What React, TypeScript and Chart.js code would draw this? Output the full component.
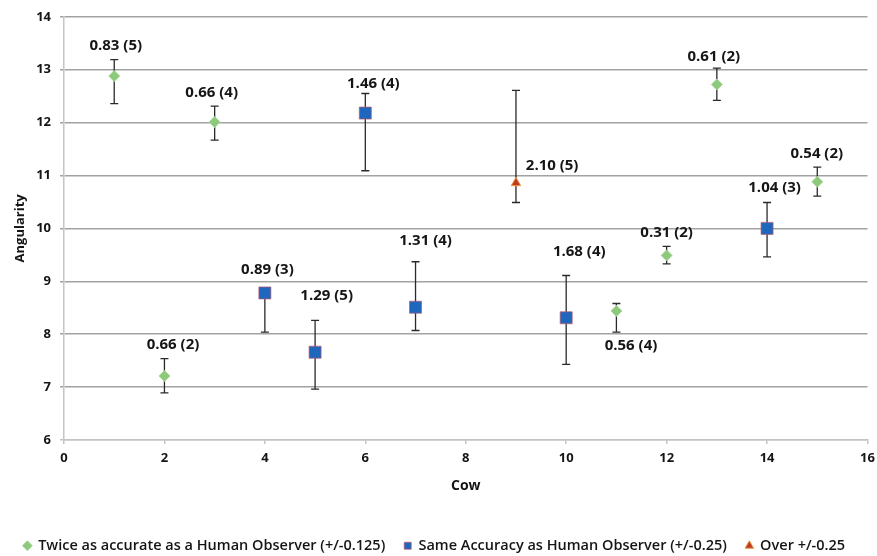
import React, { useEffect, useRef } from "react";
import { Chart, registerables } from "chart.js";

Chart.register(...registerables);

// ---- data ----
const twiceCows = [1, 2, 3, 11, 12, 13, 15];
const twiceValues = [12.88, 7.21, 12.01, 8.44, 9.49, 12.72, 10.88];
const twiceHigh = [13.19, 7.54, 12.31, 8.58, 9.66, 13.03, 11.16];
const twiceLow = [12.36, 6.89, 11.67, 8.04, 9.33, 12.42, 10.61];
const twiceLabels = ["0.83 (5)", "0.66 (2)", "0.66 (4)", "0.56 (4)", "0.31 (2)", "0.61 (2)", "0.54 (2)"];
const twiceLabelX = [1.03, 2.17, 2.94, 11.29, 12.0, 12.94, 14.99];
const twiceLabelY = [13.46, 7.81, 12.57, 7.78, 9.91, 13.25, 11.42];

const sameCows = [4, 5, 6, 7, 10, 14];
const sameValues = [8.78, 7.66, 12.18, 8.51, 8.31, 10.0];
const sameHigh = [8.88, 8.26, 12.55, 9.37, 9.11, 10.49];
const sameLow = [8.04, 6.96, 11.09, 8.07, 7.43, 9.46];
const sameLabels = ["0.89 (3)", "1.29 (5)", "1.46 (4)", "1.31 (4)", "1.68 (4)", "1.04 (3)"];
const sameLabelX = [4.05, 5.23, 6.16, 7.2, 10.26, 14.15];
const sameLabelY = [9.21, 8.72, 12.74, 9.76, 9.55, 10.76];

const overCows = [9];
const overValues = [10.86];
const overHigh = [12.61];
const overLow = [10.49];
const overLabels = ["2.10 (5)"];
const overLabelX = [9.72];
const overLabelY = [11.18];

const seriesNames = [
  "Twice as accurate as a Human Observer (+/-0.125)",
  "Same Accuracy as Human Observer (+/-0.25)",
  "Over +/-0.25",
];

const FONT = "'Open Sans', 'DejaVu Sans', sans-serif";

const toPoints = (xs: number[], ys: number[]) => xs.map((x, i) => ({ x, y: ys[i] }));

const errorBarPlugin = {
  id: "errorBars",
  beforeDatasetsDraw(chart: any) {
    const { ctx, scales } = chart;
    const xs = scales.x;
    const ys = scales.y;
    ctx.save();
    ctx.strokeStyle = "#2a2a2a";
    ctx.lineWidth = 1.3;
    chart.data.datasets.forEach((ds: any) => {
      ds.data.forEach((p: any, i: number) => {
        const px = xs.getPixelForValue(p.x);
        const top = ys.getPixelForValue(ds.errHigh[i]);
        const bot = ys.getPixelForValue(ds.errLow[i]);
        ctx.beginPath();
        ctx.moveTo(px, top);
        ctx.lineTo(px, bot);
        ctx.moveTo(px - 4, top);
        ctx.lineTo(px + 4, top);
        ctx.moveTo(px - 4, bot);
        ctx.lineTo(px + 4, bot);
        ctx.stroke();
      });
    });
    ctx.restore();
  },
};

const labelPlugin = {
  id: "pointLabels",
  afterDatasetsDraw(chart: any) {
    const { ctx, scales } = chart;
    ctx.save();
    ctx.font = `bold 15px ${FONT}`;
    ctx.fillStyle = "#151515";
    ctx.textAlign = "center";
    ctx.textBaseline = "middle";
    chart.data.datasets.forEach((ds: any) => {
      ds.pointTexts.forEach((t: string, i: number) => {
        ctx.fillText(
          t,
          scales.x.getPixelForValue(ds.labelX[i]),
          scales.y.getPixelForValue(ds.labelY[i])
        );
      });
    });
    ctx.restore();
  },
};

export default function App() {
  const ref = useRef<HTMLCanvasElement>(null);

  useEffect(() => {
    if (!ref.current) return;
    const chart = new Chart(ref.current, {
      type: "scatter",
      data: {
        datasets: [
          {
            label: seriesNames[0],
            data: toPoints(twiceCows, twiceValues),
            errHigh: twiceHigh,
            errLow: twiceLow,
            pointTexts: twiceLabels,
            labelX: twiceLabelX,
            labelY: twiceLabelY,
            pointStyle: "rectRot",
            pointRadius: 5.5,
            backgroundColor: "#8cc97a",
            borderColor: "#a9d79b",
            borderWidth: 1,
          },
          {
            label: seriesNames[1],
            data: toPoints(sameCows, sameValues),
            errHigh: sameHigh,
            errLow: sameLow,
            pointTexts: sameLabels,
            labelX: sameLabelX,
            labelY: sameLabelY,
            pointStyle: "rect",
            pointRadius: 8.5,
            backgroundColor: "#1f66bd",
            borderColor: "rgba(190,90,110,0.7)",
            borderWidth: 1,
          },
          {
            label: seriesNames[2],
            data: toPoints(overCows, overValues),
            errHigh: overHigh,
            errLow: overLow,
            pointTexts: overLabels,
            labelX: overLabelX,
            labelY: overLabelY,
            pointStyle: "triangle",
            pointRadius: 5.5,
            backgroundColor: "#c23a22",
            borderColor: "#e79a45",
            borderWidth: 1,
          },
        ] as any,
      },
      options: {
        animation: false,
        responsive: false,
        maintainAspectRatio: false,
        layout: { padding: { left: 0, right: 8, top: 16, bottom: -7 } },
        plugins: {
          tooltip: { enabled: false },
          legend: {
            position: "bottom",
            labels: {
              usePointStyle: true,
              boxWidth: 7,
              boxHeight: 7,
              padding: 19,
              color: "#151515",
              font: { family: FONT, size: 14.5, weight: "600" },
            },
          },
        },
        scales: {
          x: {
            type: "linear",
            min: 0,
            max: 16,
            ticks: {
              stepSize: 2,
              padding: 6,
              color: "#151515",
              font: { family: FONT, size: 13, weight: "bold" },
            },
            grid: {
              display: true,
              drawOnChartArea: false,
              drawTicks: true,
              tickLength: 4,
              color: "#c4c4c4",
              lineWidth: 1.5,
            },
            border: { display: true, color: "#c4c4c4", width: 1.5 },
            title: {
              display: true,
              text: "Cow",
              color: "#151515",
              font: { family: FONT, size: 14, weight: "bold" },
              padding: { top: 0, bottom: 25 },
            },
            afterFit: (scale: any) => {
              scale.height = 79.5;
              scale.paddingLeft = 0;
              scale.paddingRight = 0;
            },
          },
          y: {
            type: "linear",
            min: 6,
            max: 14,
            ticks: {
              stepSize: 1,
              padding: 9,
              color: "#151515",
              font: { family: FONT, size: 13, weight: "bold" },
            },
            grid: {
              display: true,
              drawOnChartArea: true,
              drawTicks: true,
              tickLength: 4,
              color: (c: any) => (c.tick && c.tick.value === 6 ? "#c4c4c4" : "#a2a2a2"),
              lineWidth: 1.5,
            },
            border: { display: true, color: "#c4c4c4", width: 1.5 },
            title: {
              display: true,
              text: "Angularity",
              color: "#151515",
              font: { family: FONT, size: 13, weight: "bold" },
              padding: { top: 12, bottom: 0 },
            },
            afterFit: (scale: any) => {
              scale.width = 64;
            },
          },
        },
      },
      plugins: [errorBarPlugin, labelPlugin],
    } as any);
    return () => chart.destroy();
  }, []);

  return (
    <div style={{ position: "fixed", left: 0, top: 0, width: 877, height: 556, background: "#fff" }}>
      <canvas ref={ref} width={877} height={556} style={{ display: "block" }} />
    </div>
  );
}
